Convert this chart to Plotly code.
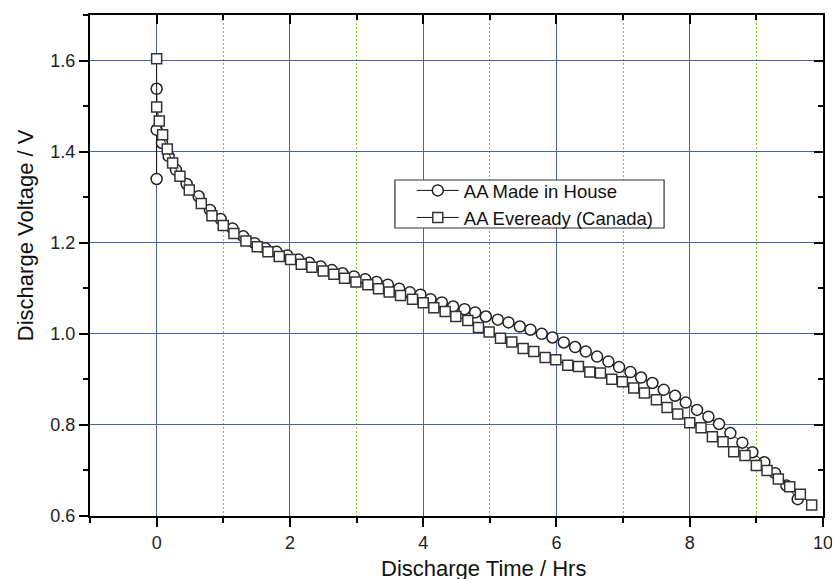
import plotly.graph_objects as go

# AA Made in House (circles)
house_t = [0.0, 0.0, 0.0, 0.08, 0.18, 0.29, 0.45, 0.63, 0.80, 0.96, 1.14, 1.30, 1.47, 1.63,
           1.80, 1.96, 2.13, 2.29, 2.46, 2.63, 2.79, 2.96, 3.13, 3.30, 3.47, 3.64, 3.80,
           3.96, 4.11, 4.28, 4.45, 4.62, 4.78, 4.94, 5.12, 5.28, 5.45, 5.61, 5.78, 5.94,
           6.11, 6.28, 6.44, 6.61, 6.78, 6.94, 7.11, 7.27, 7.44, 7.61, 7.78, 7.94, 8.11,
           8.28, 8.44, 8.61, 8.79, 8.94, 9.12, 9.28, 9.45, 9.62]
house_v = [1.340, 1.538, 1.448, 1.419, 1.390, 1.360, 1.329, 1.302, 1.272, 1.252, 1.231, 1.214,
           1.199, 1.188, 1.180, 1.172, 1.163, 1.156, 1.148, 1.140, 1.133, 1.126, 1.120, 1.114,
           1.108, 1.099, 1.091, 1.086, 1.076, 1.069, 1.060, 1.054, 1.047, 1.038, 1.031, 1.025,
           1.016, 1.009, 1.000, 0.992, 0.981, 0.971, 0.961, 0.950, 0.939, 0.927, 0.916, 0.904,
           0.892, 0.877, 0.864, 0.849, 0.833, 0.818, 0.802, 0.782, 0.761, 0.740, 0.718, 0.694,
           0.667, 0.637]

# AA Eveready (Canada) (squares)
evr_t = [0.0, 0.0, 0.04, 0.09, 0.16, 0.24, 0.35, 0.49, 0.67, 0.83, 1.00, 1.16, 1.34, 1.51,
         1.67, 1.84, 2.01, 2.17, 2.33, 2.50, 2.66, 2.82, 2.99, 3.17, 3.33, 3.49, 3.66, 3.84,
         4.00, 4.16, 4.33, 4.49, 4.67, 4.83, 4.99, 5.16, 5.33, 5.50, 5.66, 5.83, 5.99, 6.17,
         6.33, 6.50, 6.66, 6.83, 6.99, 7.16, 7.32, 7.50, 7.66, 7.82, 8.00, 8.17, 8.34, 8.50,
         8.66, 8.83, 9.00, 9.16, 9.33, 9.50, 9.66, 9.83]
evr_v = [1.604, 1.498, 1.467, 1.437, 1.406, 1.375, 1.346, 1.316, 1.286, 1.259, 1.238, 1.220,
         1.204, 1.191, 1.180, 1.170, 1.163, 1.153, 1.146, 1.138, 1.131, 1.122, 1.114, 1.108,
         1.099, 1.092, 1.084, 1.076, 1.068, 1.057, 1.049, 1.038, 1.029, 1.014, 1.004, 0.990,
         0.982, 0.968, 0.961, 0.948, 0.943, 0.931, 0.928, 0.916, 0.914, 0.900, 0.895, 0.881,
         0.870, 0.855, 0.838, 0.824, 0.805, 0.794, 0.774, 0.763, 0.741, 0.733, 0.711, 0.700,
         0.681, 0.664, 0.648, 0.624]

names = ["AA Made in House", "AA Eveready (Canada)"]
x_title = "Discharge Time / Hrs"
y_title = "Discharge Voltage / V"

FONT = "Liberation Sans, Arial, Helvetica, sans-serif"
GRID_BLUE = "#4565ad"
GRID_GREEN = "#7acc14"
XR = [-1, 10]
YR = [0.6, 1.7]

fig = go.Figure()
fig.add_trace(go.Scatter(
    x=house_t, y=house_v, mode="lines+markers", name=names[0],
    line=dict(color="#111111", width=1),
    marker=dict(symbol="circle", size=11, color="white",
                line=dict(color="#222222", width=1.5)),
))
fig.add_trace(go.Scatter(
    x=evr_t, y=evr_v, mode="lines+markers", name=names[1],
    line=dict(color="#111111", width=1),
    marker=dict(symbol="square", size=10, color="white",
                line=dict(color="#333333", width=1.5)),
))
# dummy trace for the mirrored tick axes
fig.add_trace(go.Scatter(x=[None], y=[None], xaxis="x2", yaxis="y2",
                         showlegend=False, hoverinfo="skip"))

fig.update_layout(
    width=832, height=571,
    margin=dict(l=82, r=13, t=7, b=63),
    paper_bgcolor="white", plot_bgcolor="white",
    font=dict(family=FONT, size=18, color="#222222"),
    xaxis=dict(
        range=XR, autorange=False, tick0=0, dtick=2,
        ticks="outside", ticklen=9, tickwidth=2, tickcolor="black",
        showline=True, linewidth=2, linecolor="black",
        showgrid=True, gridcolor=GRID_BLUE, gridwidth=1, zeroline=False,
        tickfont=dict(size=18, color="#222222"),
        minor=dict(tick0=1, dtick=2, ticks="outside", ticklen=5, tickwidth=2,
                   tickcolor="black", showgrid=True, gridcolor=GRID_GREEN,
                   griddash="2px,2px", gridwidth=1),
    ),
    yaxis=dict(
        range=YR, autorange=False, tick0=0.6, dtick=0.2, tickformat=".1f",
        ticks="outside", ticklen=9, tickwidth=2, tickcolor="black",
        showline=True, linewidth=2, linecolor="black",
        showgrid=True, gridcolor=GRID_BLUE, gridwidth=1, zeroline=False,
        tickfont=dict(size=18, color="#222222"),
        minor=dict(tick0=0.7, dtick=0.2, ticks="outside", ticklen=5, tickwidth=2,
                   tickcolor="black", showgrid=False),
    ),
    xaxis2=dict(
        overlaying="x", side="top", anchor="y2", range=XR, autorange=False,
        tick0=0, dtick=2, ticks="inside", ticklen=9, tickwidth=2, tickcolor="black",
        showticklabels=False, showgrid=False, zeroline=False,
        showline=True, linewidth=2, linecolor="black",
        minor=dict(tick0=1, dtick=2, ticks="inside", ticklen=5, tickwidth=2,
                   tickcolor="black", showgrid=False),
    ),
    yaxis2=dict(
        overlaying="y", side="right", anchor="x2", range=YR, autorange=False,
        tick0=0.6, dtick=0.2, ticks="inside", ticklen=9, tickwidth=2, tickcolor="black",
        showticklabels=False, showgrid=False, zeroline=False,
        showline=True, linewidth=2, linecolor="black",
        minor=dict(tick0=0.7, dtick=0.2, ticks="inside", ticklen=5, tickwidth=2,
                   tickcolor="black", showgrid=False),
    ),
    legend=dict(
        x=0.439, y=0.622, xanchor="left", yanchor="middle",
        bgcolor="rgba(0,0,0,0)", borderwidth=0,
        font=dict(size=18.5, color="#111111"), itemwidth=42, tracegroupgap=0,
    ),
    shapes=[
        dict(type="rect", xref="paper", yref="paper", layer="above",
             x0=0.416, x1=0.7832, y0=0.5749, y1=0.6707,
             fillcolor="white", line=dict(color="#333333", width=1.2)),
    ],
    annotations=[
        dict(text=x_title, xref="paper", yref="paper", x=0.537, y=-0.104,
             xanchor="center", yanchor="middle", showarrow=False,
             font=dict(size=22, color="#111111")),
        dict(text=y_title, xref="paper", yref="paper", x=-0.087, y=0.561,
             xanchor="center", yanchor="middle", showarrow=False, textangle=-90,
             font=dict(size=22, color="#111111")),
    ],
)

fig.write_html("out.html")
